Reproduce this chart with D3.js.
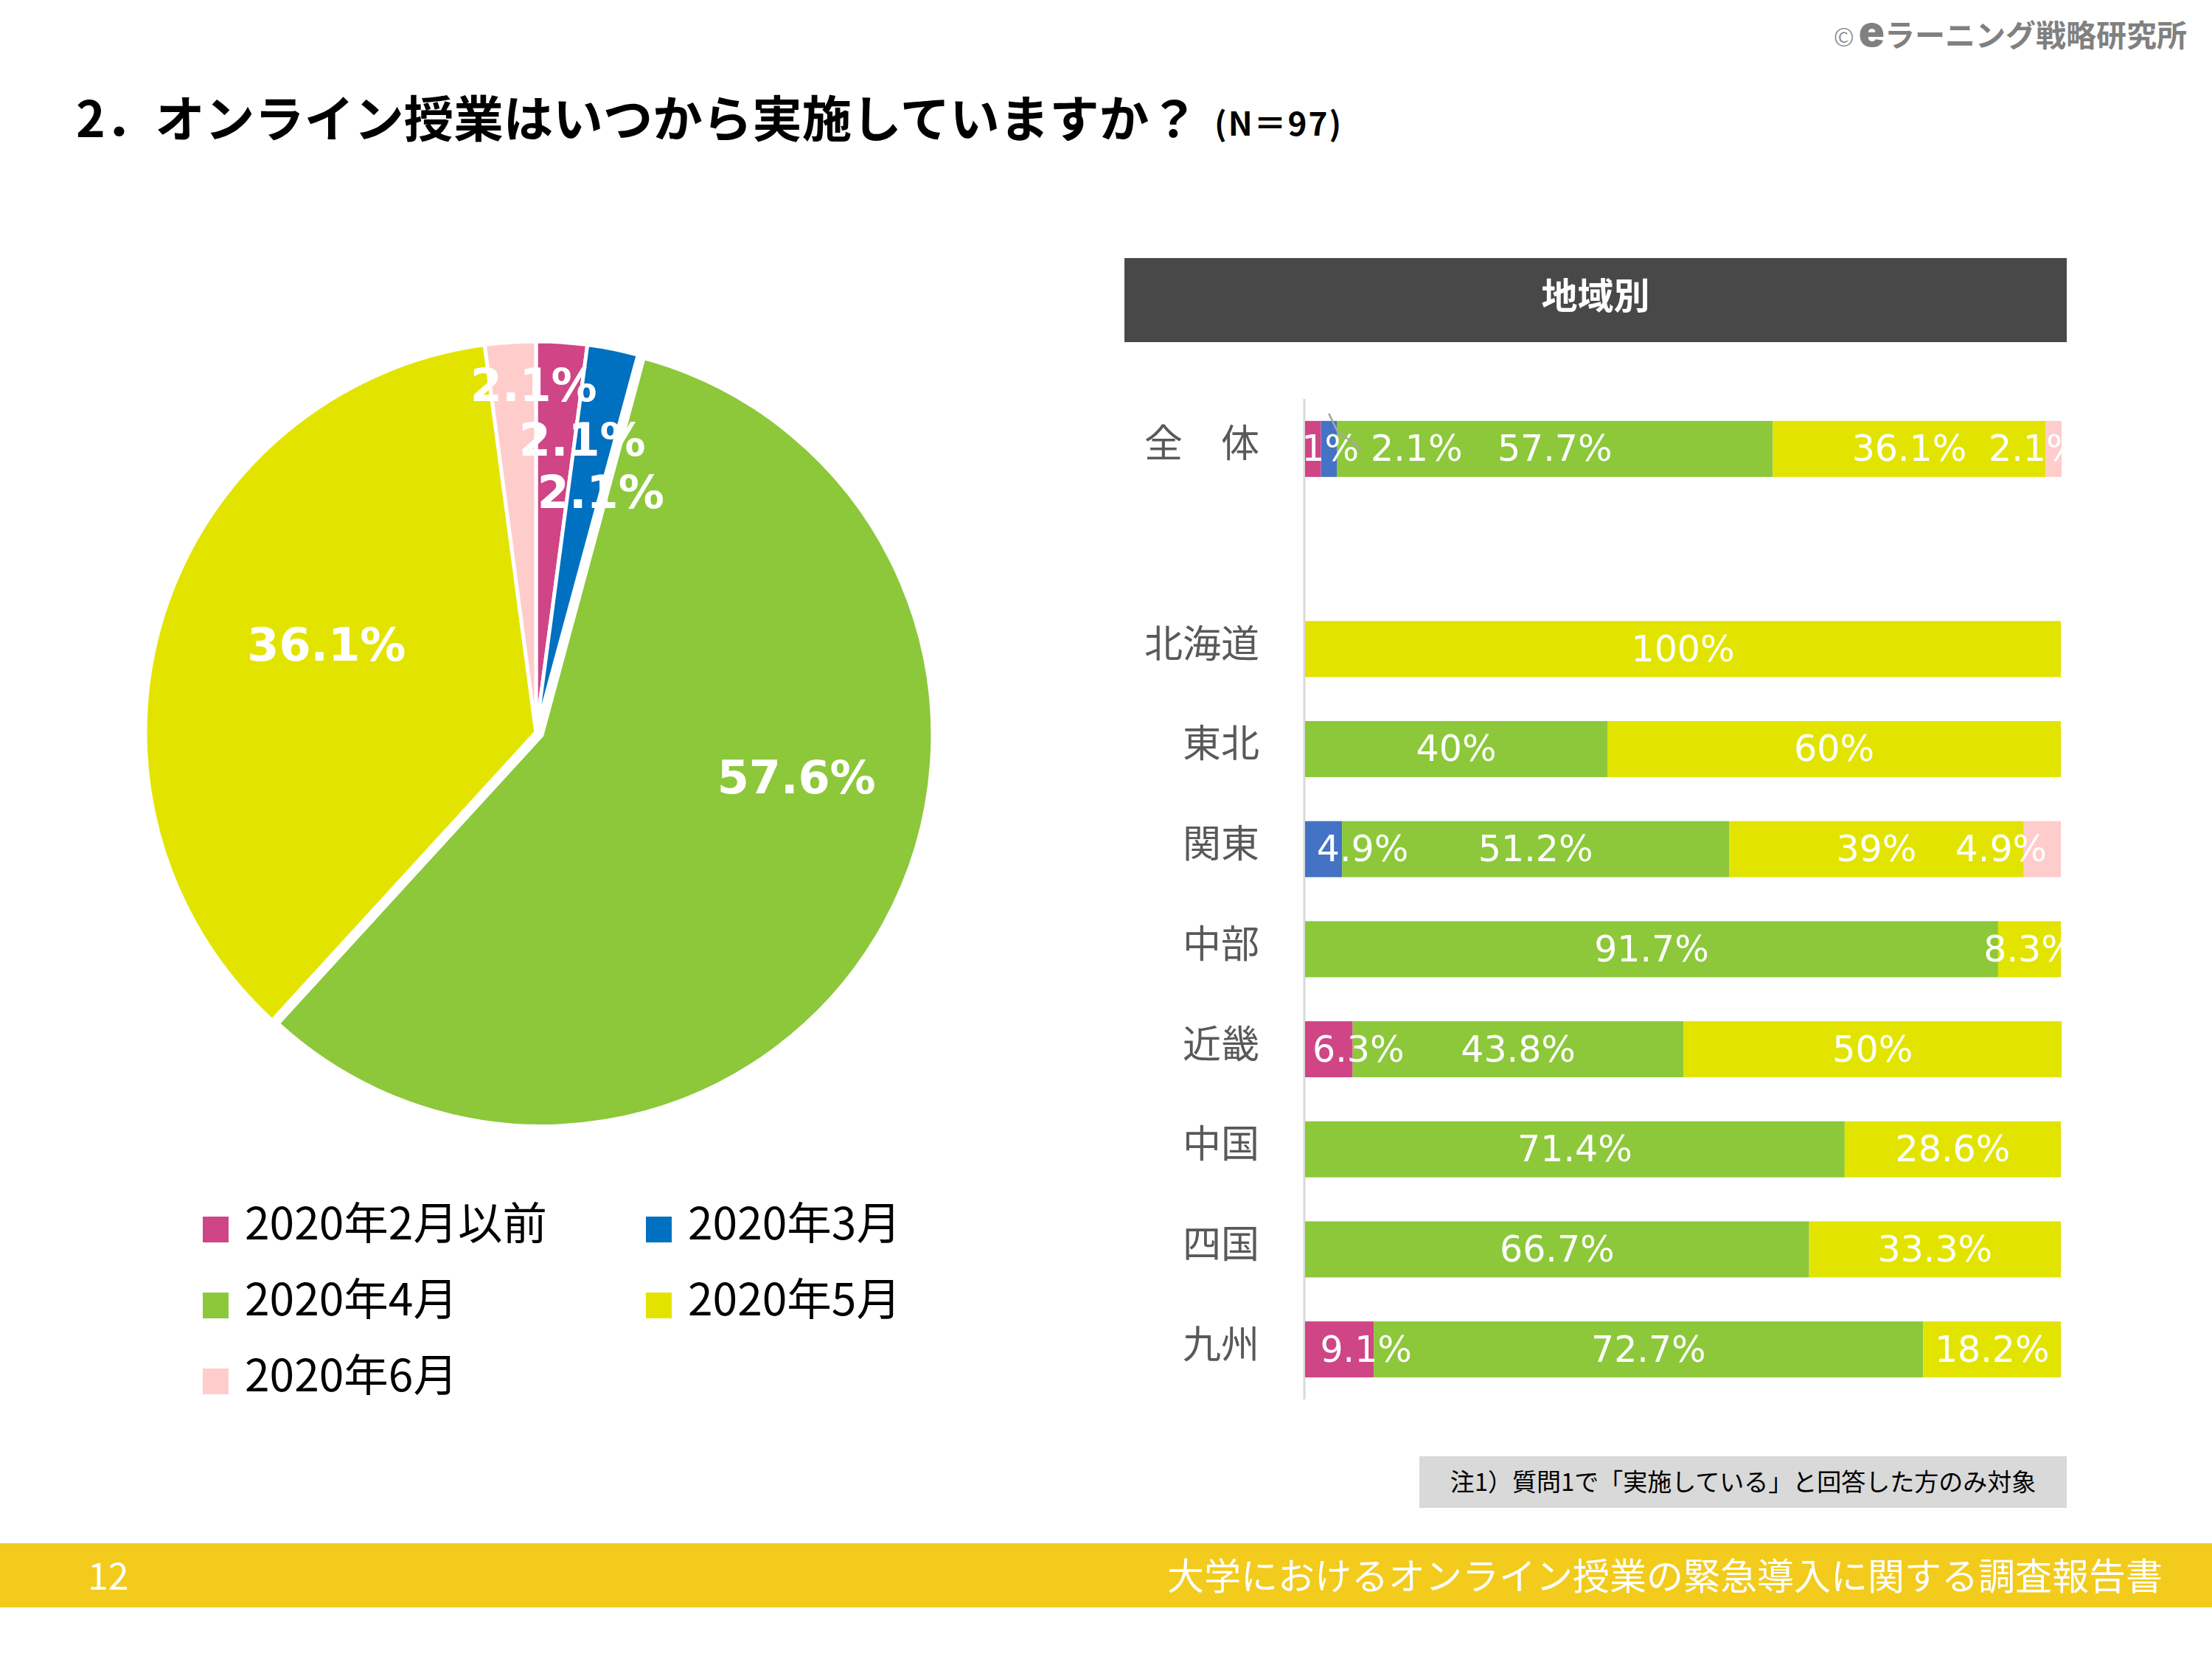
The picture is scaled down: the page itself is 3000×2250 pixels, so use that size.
<!DOCTYPE html>
<html><head><meta charset="utf-8">
<script src="https://cdn.jsdelivr.net/npm/d3@7"></script>
<style>
html,body{margin:0;padding:0;background:#fff;}
svg{display:block;}
</style></head>
<body>
<svg id="c" width="3000" height="2250"></svg>
<script>
// ---------- data ----------
const seriesNames = ["2020年2月以前", "2020年3月", "2020年4月", "2020年5月", "2020年6月"];
const pieValues = [2.1, 2.1, 57.6, 36.1, 2.1];
const regions = ["全　体", " ", "北海道", "東北", "関東", "中部", "近畿", "中国", "四国", "九州"];
const febOrEarlier = [2.1, 0, 0, 0, 0, 0, 6.3, 0, 0, 9.1];
const march = [2.1, 0, 0, 0, 4.9, 0, 0, 0, 0, 0];
const april = [57.7, 0, 0, 40, 51.2, 91.7, 43.8, 71.4, 66.7, 72.7];
const may = [36.1, 0, 100, 60, 39, 8.3, 50, 28.6, 33.3, 18.2];
const june = [2.1, 0, 0, 0, 4.9, 0, 0, 0, 0, 0];

const titleText = "2．オンライン授業はいつから実施していますか？";
const nText = "(N＝97)";
const panelTitle = "地域別";
const noteText = "注1）質問1で「実施している」と回答した方のみ対象";
const footerLeft = "12";
const footerRight = "大学におけるオンライン授業の緊急導入に関する調査報告書";

// ---------- styles ----------
const pieColors = ["#CF4586", "#0070C0", "#8CC83A", "#E2E400", "#FFCCCC"];
const barColors = ["#CF4586", "#4472C4", "#8CC83A", "#E2E400", "#FFCCCC"];
const jp = "'Noto Sans CJK JP','Noto Sans',sans-serif";
const latin = "'DejaVu Sans',Verdana,sans-serif";

const svg = d3.select("#c");

// logo
const logo = svg.append("text").attr("x", 2966).attr("y", 63).attr("text-anchor", "end")
  .attr("fill", "#808080").style("font-family", jp);
logo.append("tspan").text("©").style("font-size", "34px").style("font-weight", 300);
logo.append("tspan").text("e").style("font-family", "Inter, 'DejaVu Sans', sans-serif")
  .style("font-size", "58px").style("font-weight", 900).attr("dx", 6);
logo.append("tspan").text("ラーニング戦略研究所").style("font-size", "41px").style("font-weight", 700);

// title
svg.append("text").attr("x", 103).attr("y", 186).text(titleText)
  .style("font-family", jp).style("font-weight", 700).style("font-size", "67.5px").attr("fill", "#000");
svg.append("text").attr("x", 1647).attr("y", 184).text(nText)
  .style("font-family", jp).style("font-weight", 700).style("font-size", "44px")
  .style("letter-spacing", "2px").attr("fill", "#000");

// ---------- pie ----------
const cx = 727, cy = 993, R = 530;
const pie = d3.pie().sort(null).value(d => d)(pieValues);
const arc = d3.arc().innerRadius(0).outerRadius(R);
const explode = [0, 0, 9, 0, 0];
const pg = svg.append("g").attr("transform", `translate(${cx},${cy})`);
pg.selectAll("path").data(pie).join("path")
  .attr("d", arc)
  .attr("fill", (d, i) => pieColors[i])
  .attr("stroke", "#fff").attr("stroke-width", 5).attr("stroke-linejoin", "round")
  .attr("transform", (d, i) => {
    const a = (d.startAngle + d.endAngle) / 2;
    return `translate(${Math.sin(a) * explode[i]},${-Math.cos(a) * explode[i]})`;
  });
// label placement [angle deg, radius]
const pieLabelPos = [[9.0, 401], [15.1, 337], [99.4, 350], [292.7, 308], [-0.4, 471]];
pg.selectAll("text.pl").data(pie).join("text").attr("class", "pl")
  .attr("x", (d, i) => {
    const a = (d.startAngle + d.endAngle) / 2;
    return Math.sin(a) * explode[i] + Math.sin(pieLabelPos[i][0] * Math.PI / 180) * pieLabelPos[i][1];
  })
  .attr("y", (d, i) => {
    const a = (d.startAngle + d.endAngle) / 2;
    return -Math.cos(a) * explode[i] - Math.cos(pieLabelPos[i][0] * Math.PI / 180) * pieLabelPos[i][1];
  })
  .attr("text-anchor", "middle").attr("dominant-baseline", "central")
  .attr("fill", "#fff").style("font-family", latin).style("font-weight", 700).style("font-size", "62px")
  .text(d => d.data + "%");

// legend
const legPos = [[275, 1667], [876, 1667], [275, 1770], [876, 1770], [275, 1873]];
const lg = svg.append("g");
seriesNames.forEach((s, i) => {
  const g = lg.append("g").attr("transform", `translate(${legPos[i][0]},${legPos[i][1]})`);
  g.append("rect").attr("x", 0).attr("y", -17).attr("width", 35).attr("height", 35).attr("fill", pieColors[i]);
  g.append("text").attr("x", 57).attr("y", -13).attr("dominant-baseline", "central").text(s)
    .style("font-family", jp).style("font-size", "60.5px").attr("fill", "#000");
});

// ---------- bar chart ----------
svg.append("rect").attr("x", 1525).attr("y", 350).attr("width", 1278).attr("height", 114).attr("fill", "#484848");
svg.append("text").attr("x", 2164).attr("y", 397).attr("text-anchor", "middle").attr("dominant-baseline", "central")
  .text(panelTitle).style("font-family", jp).style("font-weight", 700).style("font-size", "49px").attr("fill", "#fff");

const x = d3.scaleLinear().domain([0, 100]).range([1770, 2795]);
const y = d3.scaleBand().domain(regions).range([541, 1898]).paddingInner(0.44).paddingOuter(0.22);

const rows = regions.map((r, i) => ({
  region: r, s0: febOrEarlier[i], s1: march[i], s2: april[i], s3: may[i], s4: june[i]
}));
const keys = ["s0", "s1", "s2", "s3", "s4"];
const stacked = d3.stack().keys(keys)(rows);

// axis line
svg.append("line").attr("x1", 1769).attr("x2", 1769).attr("y1", y.range()[0]).attr("y2", y.range()[1])
  .attr("stroke", "#D9D9D9").attr("stroke-width", 3);

const bg = svg.append("g");
stacked.forEach((layer, si) => {
  bg.selectAll(null).data(layer.filter(d => d[1] - d[0] > 0)).join("rect")
    .attr("x", d => x(d[0])).attr("width", d => x(d[1]) - x(d[0]))
    .attr("y", d => y(d.data.region)).attr("height", y.bandwidth())
    .attr("fill", barColors[si]);
});

// category labels
svg.append("g").selectAll("text").data(regions.filter(r => r.trim() !== "")).join("text")
  .attr("x", 1708).attr("y", d => y(d) + y.bandwidth() / 2 - 11)
  .attr("text-anchor", "end").attr("dominant-baseline", "central")
  .text(d => d).style("font-family", jp).style("font-size", "52px").attr("fill", "#595959");

// value labels (with nudges where labels were moved off-centre)
const labelNudge = { "全　体|1": 119, "全　体|4": -26, "関東|1": 53, "関東|4": -56, "近畿|0": 40, "九州|0": 36 };
const lblG = svg.append("g");
stacked.forEach((layer, si) => {
  layer.filter(d => d[1] - d[0] > 0).forEach(d => {
    const key = d.data.region + "|" + si;
    const cxl = (x(d[0]) + x(d[1])) / 2 + (labelNudge[key] || 0);
    const cyl = y(d.data.region) + y.bandwidth() / 2;
    const t = lblG.append("text").attr("x", cxl).attr("y", cyl)
      .attr("text-anchor", "middle").attr("dominant-baseline", "central")
      .attr("fill", "#fff").style("font-family", latin).style("font-size", "49px")
      .text(+(d[1] - d[0]).toFixed(1) + "%");
    if (key === "全　体|1") {
      const w = t.node().getComputedTextLength();
      const sx = (x(d[0]) + x(d[1])) / 2, top = y(d.data.region);
      lblG.append("polyline")
        .attr("points", `${sx},${top - 10} ${sx + 11},${top + 13} ${cxl - w / 2 - 14},${cyl}`)
        .attr("fill", "none").attr("stroke", "#A6A6A6").attr("stroke-width", 2.5);
    }
  });
});

// note
svg.append("rect").attr("x", 1925).attr("y", 1975).attr("width", 878).attr("height", 70).attr("fill", "#D9D9D9");
svg.append("text").attr("x", 2364).attr("y", 2008).attr("text-anchor", "middle").attr("dominant-baseline", "central")
  .text(noteText).style("font-family", jp).style("font-size", "33px").attr("fill", "#000");

// footer
svg.append("rect").attr("x", 0).attr("y", 2093).attr("width", 3000).attr("height", 87).attr("fill", "#F2CB1D");
svg.append("text").attr("x", 119).attr("y", 2134).attr("dominant-baseline", "central")
  .text(footerLeft).style("font-family", jp).style("font-size", "50px").attr("fill", "#fff");
svg.append("text").attr("x", 2933).attr("y", 2134).attr("text-anchor", "end").attr("dominant-baseline", "central")
  .text(footerRight).style("font-family", jp).style("font-size", "50px").attr("fill", "#fff");
</script>
</body></html>
